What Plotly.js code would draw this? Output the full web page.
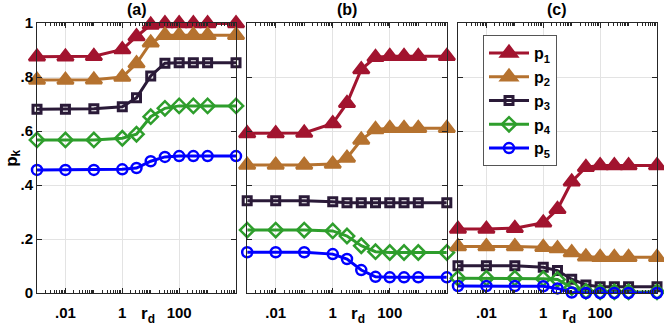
<!DOCTYPE html>
<html>
<head>
<meta charset="utf-8">
<script src="https://cdn.plot.ly/plotly-3.0.1.min.js"></script>
<style>
  body { margin: 0; background: #fff; }
  #chart { width: 664px; height: 328px; }
</style>
</head>
<body>
<div id="chart"></div>
<script>
// r_d values shared by all three panels
var rd = [0.001, 0.01, 0.1, 1, 3.16, 10, 31.6, 100, 316, 1000, 10000];

// panel (a)
var a_p1 = [0.875, 0.875, 0.877, 0.902, 0.95, 0.993, 0.998, 0.998, 0.998, 0.998, 0.998];
var a_p2 = [0.789, 0.789, 0.790, 0.800, 0.850, 0.927, 0.955, 0.955, 0.955, 0.955, 0.955];
var a_p3 = [0.681, 0.681, 0.682, 0.690, 0.723, 0.804, 0.851, 0.853, 0.853, 0.853, 0.853];
var a_p4 = [0.567, 0.567, 0.567, 0.573, 0.588, 0.653, 0.684, 0.693, 0.693, 0.693, 0.693];
var a_p5 = [0.456, 0.456, 0.456, 0.458, 0.463, 0.488, 0.504, 0.507, 0.507, 0.507, 0.507];

// panel (b)
var b_p1 = [0.591, 0.591, 0.593, 0.628, 0.703, 0.828, 0.873, 0.877, 0.877, 0.877, 0.877];
var b_p2 = [0.474, 0.474, 0.474, 0.478, 0.500, 0.567, 0.606, 0.610, 0.610, 0.610, 0.610];
var b_p3 = [0.342, 0.342, 0.342, 0.338, 0.334, 0.334, 0.334, 0.334, 0.334, 0.334, 0.334];
var b_p4 = [0.233, 0.233, 0.233, 0.230, 0.211, 0.175, 0.153, 0.150, 0.150, 0.150, 0.150];
var b_p5 = [0.151, 0.151, 0.151, 0.144, 0.126, 0.085, 0.060, 0.058, 0.058, 0.058, 0.058];

// panel (c)
var c_p1 = [0.237, 0.237, 0.240, 0.260, 0.310, 0.412, 0.466, 0.472, 0.472, 0.472, 0.472];
var c_p2 = [0.172, 0.172, 0.172, 0.169, 0.165, 0.150, 0.134, 0.132, 0.132, 0.132, 0.132];
var c_p3 = [0.101, 0.101, 0.101, 0.095, 0.083, 0.051, 0.030, 0.023, 0.023, 0.023, 0.023];
var c_p4 = [0.055, 0.055, 0.055, 0.053, 0.050, 0.020, 0.006, 0.004, 0.004, 0.004, 0.004];
var c_p5 = [0.026, 0.026, 0.026, 0.025, 0.017, 0.002, 0.000, 0.000, 0.000, 0.000, 0.000];

var seriesNames = ["p<sub>1</sub>", "p<sub>2</sub>", "p<sub>3</sub>", "p<sub>4</sub>", "p<sub>5</sub>"];
var panelLabels = ["(a)", "(b)", "(c)"];
var xTickVals = [0.01, 1, 100];
var xTickText = [".01", "1", "100"];
var yTickVals = [0, 0.2, 0.4, 0.6, 0.8, 1];
var yTickText = ["0", ".2", ".4", ".6", ".8", "1"];

var colors = ["#A2142F", "#B5722F", "#2A1A38", "#2E9E2C", "#0000FF"];
var symbols = ["triangle-up", "triangle-up", "square-open", "diamond-open", "circle-open"];
var msizes = [14, 14, 8, 11, 10];

var panels = [
  [a_p1, a_p2, a_p3, a_p4, a_p5],
  [b_p1, b_p2, b_p3, b_p4, b_p5],
  [c_p1, c_p2, c_p3, c_p4, c_p5]
];

var data = [];
panels.forEach(function (series, pi) {
  var suffix = pi === 0 ? "" : String(pi + 1);
  series.forEach(function (ys, si) {
    data.push({
      x: rd,
      y: ys,
      type: "scatter",
      mode: "lines+markers",
      name: seriesNames[si],
      xaxis: "x" + suffix,
      yaxis: "y" + suffix,
      showlegend: pi === 2,
      cliponaxis: false,
      line: { color: colors[si], width: 3 },
      marker: {
        symbol: symbols[si],
        size: msizes[si],
        color: colors[si],
        line: { color: colors[si], width: si === 2 ? 3 : 2.5 }
      }
    });
  });
});

// minor log ticks
var minorVals = [];
for (var d = -3; d < 4; d++) {
  for (var k = 1; k < 10; k++) minorVals.push(k * Math.pow(10, d));
}

var tickFont = { family: "Liberation Sans, Arial, sans-serif", size: 15, color: "#000", weight: "bold" };

function xAxis(dom, anchor) {
  return {
    type: "log", range: [-3, 4], domain: dom, anchor: anchor,
    tickmode: "array", tickvals: xTickVals, ticktext: xTickText,
    ticks: "inside", ticklen: 5, tickcolor: "#262626", ticklabelstandoff: 6,
    showgrid: true, gridcolor: "#e3e3e3", gridwidth: 1,
    showline: true, linecolor: "#262626", linewidth: 1, mirror: "ticks",
    tickfont: tickFont, zeroline: false,
    minor: { tickmode: "array", tickvals: minorVals, ticks: "inside", ticklen: 3, tickcolor: "#262626", showgrid: false }
  };
}
function yAxis(anchor, labels) {
  return {
    range: [0, 1], anchor: anchor,
    tickmode: "array", tickvals: yTickVals, ticktext: yTickText,
    showticklabels: labels,
    ticks: "inside", ticklen: 5, tickcolor: "#262626",
    showgrid: true, gridcolor: "#e3e3e3", gridwidth: 1,
    showline: true, linecolor: "#262626", linewidth: 1, mirror: "ticks",
    tickfont: tickFont, zeroline: false
  };
}

var domA = [0, 0.321], domB = [0.339, 0.661], domC = [0.679, 1];

var annotations = [];
var doms = [domA, domB, domC];
doms.forEach(function (dm, i) {
  annotations.push({
    text: "<b>" + panelLabels[i] + "</b>", xref: "paper", yref: "paper",
    x: (dm[0] + dm[1]) / 2, y: 1.01, xanchor: "center", yanchor: "bottom",
    showarrow: false, font: { family: "Liberation Sans, Arial, sans-serif", size: 16, color: "#000" }
  });
  annotations.push({
    text: "<b>r<sub>d</sub></b>", xref: "paper", yref: "paper",
    x: dm[0] + 0.179, y: -0.083, xanchor: "center", yanchor: "middle",
    showarrow: false, font: { family: "Liberation Sans, Arial, sans-serif", size: 17, color: "#000" }
  });
});
annotations.push({
  text: "<b>p<sub>k</sub></b>", xref: "paper", yref: "paper",
  x: -0.039, y: 0.5, xanchor: "center", yanchor: "middle", textangle: -90,
  showarrow: false, font: { family: "Liberation Sans, Arial, sans-serif", size: 17, color: "#000" }
});

var layout = {
  width: 664, height: 328,
  margin: { l: 37, r: 7, t: 23, b: 35 },
  paper_bgcolor: "#fff", plot_bgcolor: "#fff",
  xaxis: xAxis(domA, "y"),
  yaxis: yAxis("x", true),
  xaxis2: xAxis(domB, "y2"),
  yaxis2: yAxis("x2", false),
  xaxis3: xAxis(domC, "y3"),
  yaxis3: yAxis("x3", false),
  annotations: annotations,
  legend: {
    x: (483 - 37) / 620, y: 1 - (35 - 23) / 270,
    xanchor: "left", yanchor: "top",
    bgcolor: "#fff", bordercolor: "#555", borderwidth: 1,
    font: { family: "Liberation Sans, Arial, sans-serif", size: 16, color: "#000", weight: "bold" },
    itemwidth: 40
  },
  showlegend: true
};

Plotly.newPlot("chart", data, layout, { staticPlot: true });
</script>
</body>
</html>
